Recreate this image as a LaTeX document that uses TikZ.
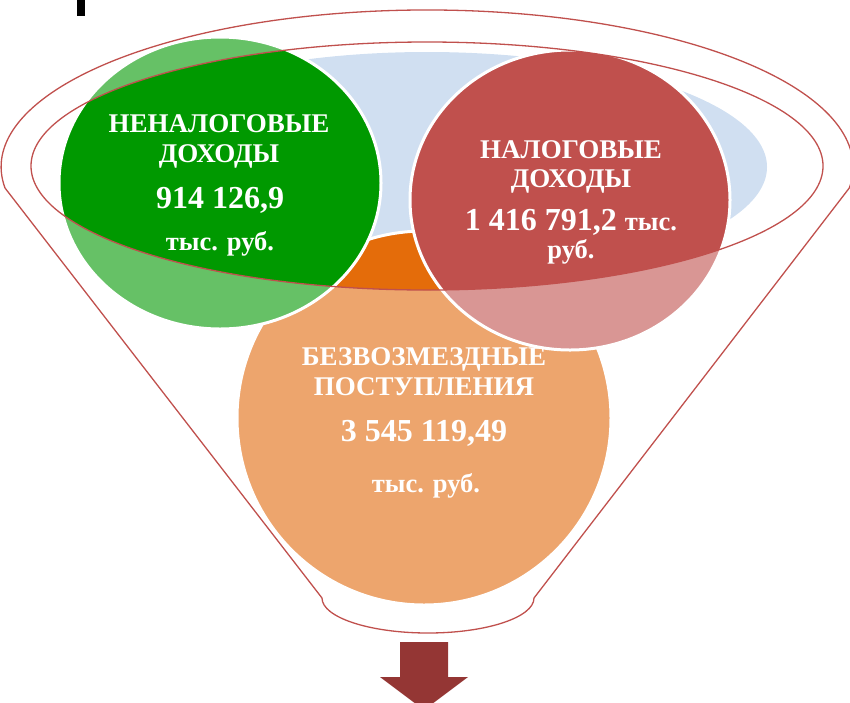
\documentclass[tikz,border=0pt]{standalone}
\usepackage{fontspec}
\setmainfont{Liberation Serif}
\definecolor{gdark}{HTML}{009900}
\definecolor{glight}{HTML}{66C166}
\definecolor{rdark}{HTML}{C0504D}
\definecolor{rlight}{HTML}{D99694}
\definecolor{odark}{HTML}{E46C0A}
\definecolor{olight}{HTML}{EDA56D}
\definecolor{blue1}{HTML}{D0DFF1}
\definecolor{arrowc}{HTML}{943634}
\tikzset{
  rim/.style={draw=white, line width=3pt},
  outline/.style={draw=rdark, line width=1.3pt},
  lbl/.style={text=white, font=\bfseries\fontsize{27}{30}\selectfont, anchor=base, inner sep=0pt},
  num/.style={text=white, font=\bfseries\fontsize{32}{35}\selectfont, anchor=base, inner sep=0pt},
  unit/.style={text=white, font=\bfseries\fontsize{26.5}{29}\selectfont, anchor=base, inner sep=0pt}
}
\begin{document}
\begin{tikzpicture}[x=1pt,y=-1pt]
\useasboundingbox (0,0) rectangle (850,702);
\clip (0,0) rectangle (850,702);
\fill[black] (77,0) rectangle (85,16);
\fill[blue1] (427,167) ellipse[x radius=340, y radius=115];
\fill[olight] (424,418) ellipse[x radius=187, y radius=187];
\begin{scope}
  \clip (427,166) ellipse[x radius=396, y radius=124];
  \fill[odark] (424,418) ellipse[x radius=187, y radius=187];
\end{scope}
\draw[rim] (424,418) ellipse[x radius=187, y radius=187];
\node[lbl] (o1) at (424,365) {БЕЗВОЗМЕЗДНЫЕ};
\node[lbl] (o2) at (424,395) {ПОСТУПЛЕНИЯ};
\node[num] (o3) at (424,441) {3 545 119,49};
\node[unit] (o4) at (426,492) {тыс. руб.};
\fill[glight] (220,183) ellipse[x radius=161, y radius=146];
\begin{scope}
  \clip (427,166) ellipse[x radius=396, y radius=124];
  \fill[gdark] (220,183) ellipse[x radius=161, y radius=146];
\end{scope}
\draw[rim] (220,183) ellipse[x radius=161, y radius=146];
\node[lbl] (g1) at (219,132) {НЕНАЛОГОВЫЕ};
\node[lbl] (g2) at (219,162) {ДОХОДЫ};
\node[num] (g3) at (220,208) {914 126,9};
\node[unit] (g4) at (220,250) {тыс. руб.};
\fill[rlight] (570,200) ellipse[x radius=160, y radius=150];
\begin{scope}
  \clip (427,166) ellipse[x radius=396, y radius=124];
  \fill[rdark] (570,200) ellipse[x radius=160, y radius=150];
\end{scope}
\draw[rim] (570,200) ellipse[x radius=160, y radius=150];
\node[lbl] (r1) at (571,158) {НАЛОГОВЫЕ};
\node[lbl] (r2) at (571,187) {ДОХОДЫ};
\node[num] (r3) at (571,230) {1 416 791,2 {\fontsize{26.5}{29}\selectfont тыс.}};
\node[unit] (r4) at (571,258) {руб.};
\draw[outline] (427,166) ellipse[x radius=396, y radius=124];
\draw[outline] (5,188) arc[start angle=172.3, end angle=367.7, x radius=426, y radius=157]
  -- (534,598) arc[start angle=0, end angle=180, x radius=106, y radius=35] -- cycle;
\fill[arrowc] (400,642) -- (448,642) -- (448,677) -- (468,677) -- (424,710) -- (380,677) -- (400,677) -- cycle;
\end{tikzpicture}
\end{document}
